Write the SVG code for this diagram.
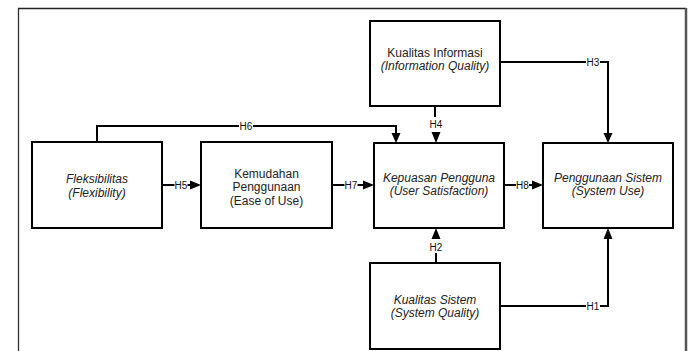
<svg xmlns="http://www.w3.org/2000/svg" width="691" height="351" viewBox="0 0 691 351">
<defs>
<style>
.box{fill:#fff;stroke:#000;stroke-width:2}
.t{font-family:"Liberation Sans",Arial,sans-serif;font-size:12px;fill:#222;text-anchor:middle}
.i{font-style:italic}
.c{fill:none;stroke:#000;stroke-width:2}
.ah{fill:#000}
.lbl{font-family:"Liberation Sans",Arial,sans-serif;font-size:10px;fill:#111;text-anchor:middle}
.bg{fill:#fff}
</style>
</defs>
<rect width="691" height="351" fill="#fff"/>
<g id="frame">
<line x1="18.5" y1="8.5" x2="18.5" y2="351" stroke="#333" stroke-width="1.3"/>
<line x1="18" y1="8.5" x2="686" y2="8.5" stroke="#222" stroke-width="1.3"/>
<line x1="686" y1="8" x2="686" y2="351" stroke="#555" stroke-width="2.5"/>
</g>
<g id="connectors">
<!-- H6 -->
<path class="c" d="M97,142 V126 H396 V134"/>
<polygon class="ah" points="391.5,133 400.5,133 396,143"/>
<rect class="bg" x="239" y="121" width="14" height="10"/>
<text class="lbl" x="246" y="129.5">H6</text>
<!-- H3 -->
<path class="c" d="M500,62 H608 V134"/>
<polygon class="ah" points="603.5,133 612.5,133 608,143"/>
<rect class="bg" x="586" y="57" width="14" height="10"/>
<text class="lbl" x="593" y="65.5">H3</text>
<!-- H4 -->
<path class="c" d="M435,106 V117"/>
<text class="lbl" x="436" y="127.5">H4</text>
<polygon class="ah" points="431.5,132 440.5,132 436,143"/>
<!-- H5 -->
<path class="c" d="M162,185 H192"/>
<polygon class="ah" points="190,180.5 190,189.5 201,185"/>
<rect class="bg" x="174.5" y="180" width="13" height="10"/>
<text class="lbl" x="181" y="188.5">H5</text>
<!-- H7 -->
<path class="c" d="M332,185 H364"/>
<polygon class="ah" points="363,180.5 363,189.5 374,185"/>
<rect class="bg" x="344.5" y="180" width="13" height="10"/>
<text class="lbl" x="351" y="188.5">H7</text>
<!-- H8 -->
<path class="c" d="M504,185 H533"/>
<polygon class="ah" points="532,180.5 532,189.5 543,185"/>
<rect class="bg" x="516" y="180" width="13" height="10"/>
<text class="lbl" x="522.5" y="188.5">H8</text>
<!-- H2 -->
<path class="c" d="M436,263 V253"/>
<text class="lbl" x="436" y="250.5">H2</text>
<polygon class="ah" points="431.5,239 440.5,239 436,228"/>
<!-- H1 -->
<path class="c" d="M500,306 H608 V238"/>
<polygon class="ah" points="603.5,239 612.5,239 608,228"/>
<rect class="bg" x="586" y="301" width="14" height="10"/>
<text class="lbl" x="593" y="309.5">H1</text>
</g>
<g id="kualitas-informasi">
<rect class="box" x="370" y="21" width="130" height="85"/>
<text class="t" x="435" y="57">Kualitas Informasi</text>
<text class="t i" x="435" y="70">(Information Quality)</text>
</g>
<g id="fleksibilitas">
<rect class="box" x="32" y="142" width="130" height="86"/>
<text class="t i" x="97" y="183">Fleksibilitas</text>
<text class="t i" x="97" y="196.5">(Flexibility)</text>
</g>
<g id="kemudahan">
<rect class="box" x="201" y="142" width="131" height="86"/>
<text class="t" x="266.5" y="177.5">Kemudahan</text>
<text class="t" x="266.5" y="191">Penggunaan</text>
<text class="t" x="266.5" y="204.5">(Ease of Use)</text>
</g>
<g id="kepuasan">
<rect class="box" x="374" y="143" width="130" height="85"/>
<text class="t i" x="439" y="181.5">Kepuasan Pengguna</text>
<text class="t i" x="439" y="195">(User Satisfaction)</text>
</g>
<g id="penggunaan-sistem">
<rect class="box" x="543" y="143" width="130" height="85"/>
<text class="t i" x="608" y="181.5">Penggunaan Sistem</text>
<text class="t i" x="608" y="195">(System Use)</text>
</g>
<g id="kualitas-sistem">
<rect class="box" x="370" y="263" width="130" height="86"/>
<text class="t i" x="435" y="303.5">Kualitas Sistem</text>
<text class="t i" x="435" y="317">(System Quality)</text>
</g>
</svg>
